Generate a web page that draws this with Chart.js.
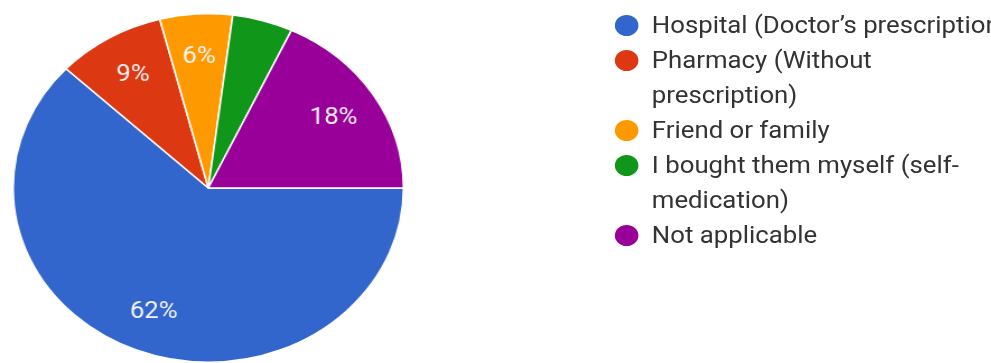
<!DOCTYPE html>
<html>
<head>
<meta charset="utf-8">
<title>Source of medicines</title>
<script src="https://cdn.jsdelivr.net/npm/chart.js@4.4.1/dist/chart.umd.min.js"></script>
<style>
  html, body { margin: 0; padding: 0; background: #fff; overflow: hidden; }
  body { width: 991px; height: 363px; }
  #stage { position: relative; width: 885px; height: 363px; transform: scaleX(1.12); transform-origin: 0 0; }
  #pieBox { position: absolute; left: 11px; top: 13px; width: 350px; height: 350px; }
  #legend { position: absolute; left: 549px; top: 8px; margin: 0; padding: 0; list-style: none;
            font: 23px Roboto, sans-serif; color: #333; line-height: 35px; white-space: nowrap; }
  #legend li { position: relative; padding-left: 33px; }
  #legend .dot { position: absolute; left: 0; top: 7px; width: 21px; height: 21px; border-radius: 50%; }
</style>
</head>
<body>
<div id="stage">
  <div id="pieBox"><canvas id="sourceChart"></canvas></div>
  <ul id="legend"></ul>
</div>
<script>
// answers, in the order the slices run clockwise from 3 o'clock
const categories = [
  "Hospital (Doctor’s prescription)",
  ["Pharmacy (Without", "prescription)"],
  "Friend or family",
  ["I bought them myself (self-", "medication)"],
  "Not applicable"
];
const percentages = [62, 9, 6, 5, 18];
const sliceColors = ["#3366cc", "#dc3912", "#ff9900", "#109618", "#990099"];

// slices smaller than this get no percentage text
const minLabelled = 6;

const sliceLabels = {
  id: "sliceLabels",
  afterDatasetsDraw(chart) {
    const ctx = chart.ctx;
    const meta = chart.getDatasetMeta(0);
    ctx.save();
    ctx.font = "23px Roboto, sans-serif";
    ctx.fillStyle = "#f4f4fa";
    ctx.textAlign = "center";
    ctx.textBaseline = "middle";
    meta.data.forEach((arc, i) => {
      const value = percentages[i];
      if (value < minLabelled) return;
      const p = arc.getProps(["x", "y", "startAngle", "endAngle", "outerRadius"], true);
      const mid = (p.startAngle + p.endAngle) / 2;
      const r = p.outerRadius * 0.76;
      ctx.fillText(value + "%", p.x + Math.cos(mid) * r, p.y + Math.sin(mid) * r + 1);
    });
    ctx.restore();
  }
};

new Chart(document.getElementById("sourceChart"), {
  type: "pie",
  data: {
    labels: categories,
    datasets: [{
      data: percentages,
      backgroundColor: sliceColors,
      borderColor: "#ffffff",
      borderWidth: 1.5
    }]
  },
  options: {
    responsive: true,
    maintainAspectRatio: false,
    animation: false,
    rotation: 90,
    layout: { padding: 0 },
    plugins: {
      legend: { display: false },
      tooltip: { enabled: false }
    }
  },
  plugins: [sliceLabels]
});

// legend list next to the pie
const legendList = document.getElementById("legend");
categories.forEach((label, i) => {
  const li = document.createElement("li");
  const dot = document.createElement("span");
  dot.className = "dot";
  dot.style.background = sliceColors[i];
  li.appendChild(dot);
  const lines = Array.isArray(label) ? label : [label];
  lines.forEach((line, j) => {
    if (j > 0) li.appendChild(document.createElement("br"));
    li.appendChild(document.createTextNode(line));
  });
  legendList.appendChild(li);
});
</script>
</body>
</html>
